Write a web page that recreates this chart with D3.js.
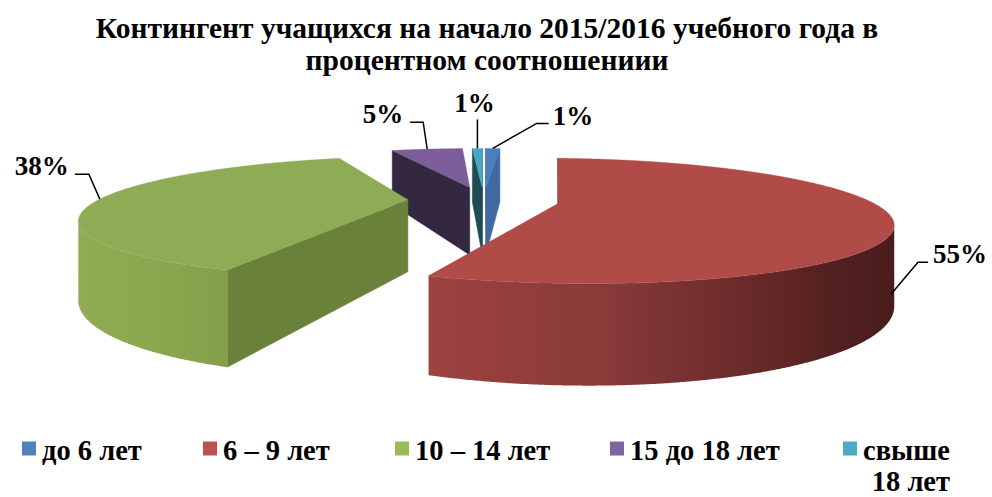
<!DOCTYPE html>
<html><head><meta charset="utf-8">
<script src="https://cdn.jsdelivr.net/npm/d3@7/dist/d3.min.js"></script>
<style>
body{margin:0;background:#fff}
text{font-family:"Liberation Serif","Times New Roman",serif;font-weight:bold;fill:#000}
</style>
</head><body>
<svg id="chart" width="992" height="497"></svg>
<script>
// ---- data ----
const titleLines = ["Контингент учащихся на начало 2015/2016 учебного года в", "процентном соотношениии"];
const categories = ["до 6 лет", "6 – 9 лет", "10 – 14 лет", "15 до 18 лет", "свыше 18 лет"];
const values = [1.0, 55.0, 38.4, 4.9, 0.7];
const legendColors = ["#4F81BD", "#C0504D", "#9BBB59", "#8064A2", "#4BACC6"];

// ---- styles ----
const topColors = ["#4A7EBD", "#B04B48", "#8EAC55", "#7A5D99", "#4AA8C3"];
const radialColors = ["#3E6AA1", "#6E2B2A", "#6A813A", "#332840", "#1F4B57"];
const wallStops = [
  [["0", "#4479B5"], ["1", "#3A659A"]],
  [["0", "#9D4341"], ["0.4", "#873938"], ["0.7", "#672A29"], ["0.9", "#501F1F"], ["1", "#4A1C1C"]],
  [["0", "#8EAC52"], ["0.5", "#8BA850"], ["1", "#839F4A"]],
  [["0", "#6E538C"], ["1", "#4B3A60"]],
  [["0", "#3F97AE"], ["1", "#2D6F80"]]
];

const W = 992, H = 497;
const svg = d3.select("#chart");
const defs = svg.append("defs");

// ---- projection ----
const cx = 483.7, cy = 200, rx = 309.7, rz = 55.9, persp = 0.28, wallH = 72, explode = 0.245;
const xScale = d3.scaleLinear().domain([-1, 1]).range([cx - rx, cx + rx]);
const zScale = d3.scaleLinear().domain([-1, 1]).range([cy + rz, cy - rz]);
function project(x, z, down) {
  const w = 1 + persp * z;
  return [xScale(x / w), zScale(z / w) + down * wallH / w];
}
const camZ = -1 / persp;

const pie = d3.pie().sort(null).value(d => d);
const arcs = pie(values);
const total = d3.sum(values);
const line = d3.line();

const slices = arcs.map((a, i) => {
  const mid = (a.startAngle + a.endAngle) / 2;
  const ox = explode * Math.sin(mid), oz = explode * Math.cos(mid);
  return { i, a, mid, ox, oz, depth: oz + 0.5 * Math.cos(mid) };
});
const drawOrder = slices.slice().sort((p, q) => q.depth - p.depth);

const pieG = svg.append("g");
drawOrder.forEach(s => {
  const g = pieG.append("g");
  const { a, ox, oz, i } = s;
  const rim = (t, down) => project(ox + Math.sin(t), oz + Math.cos(t), down);
  const apex = down => project(ox, oz, down);

  // radial walls
  [[a.startAngle, a.startAngle - Math.PI / 2], [a.endAngle, a.endAngle + Math.PI / 2]].forEach(([t, nAng]) => {
    const px = ox + 0.5 * Math.sin(t), pz = oz + 0.5 * Math.cos(t);
    const vis = (-px) * Math.sin(nAng) + (camZ - pz) * Math.cos(nAng);
    if (vis > 0) {
      g.append("path")
        .attr("d", line([apex(0), rim(t, 0), rim(t, 1), apex(1)]) + "Z")
        .attr("fill", radialColors[i]).attr("stroke", radialColors[i]).attr("stroke-width", 0.5);
    }
  });

  // outer wall (visible runs)
  const n = Math.max(8, Math.ceil((a.endAngle - a.startAngle) / 0.005));
  const runs = [];
  let cur = null;
  for (let k = 0; k <= n; k++) {
    const t = a.startAngle + (a.endAngle - a.startAngle) * k / n;
    const px = ox + Math.sin(t), pz = oz + Math.cos(t);
    const vis = (-px) * Math.sin(t) + (camZ - pz) * Math.cos(t) > 0;
    if (vis) { if (!cur) { cur = []; runs.push(cur); } cur.push(t); }
    else cur = null;
  }
  runs.forEach((run, r) => {
    if (run.length < 2) return;
    const gid = "wall" + i + "_" + r;
    const grad = defs.append("linearGradient").attr("id", gid)
      .attr("x1", 0).attr("x2", 1).attr("y1", 0).attr("y2", 0);
    wallStops[i].forEach(([o, c]) => grad.append("stop").attr("offset", o).attr("stop-color", c));
    const pts = run.map(t => rim(t, 0)).concat(run.slice().reverse().map(t => rim(t, 1)));
    g.append("path").attr("d", line(pts) + "Z")
      .attr("fill", `url(#${gid})`);
  });

  // top face
  const topPts = [apex(0)];
  for (let k = 0; k <= n; k++) topPts.push(rim(a.startAngle + (a.endAngle - a.startAngle) * k / n, 0));
  g.append("path").attr("d", line(topPts) + "Z")
    .attr("fill", topColors[i]).attr("stroke", topColors[i]).attr("stroke-width", 0.4);
});

// ---- data labels with leader lines ----
const labelDrop = [0, 1, 0, 0, 0];
const leaderElbow = [[44, -25], [27, -32], [-11, -25], [-4, -27], [0, -29]];
const leaderEnd = [[56, -25], [37, -32], [-25, -25], [-17, -27], [0, -29]];
const labelAnchor = ["start", "start", "end", "end", "middle"];
const labelShift = [[4, 2], [5, 1], [-6, 1], [-7, 1], [-3, -7]];
const fmt = d3.format(".0%");
const labG = svg.append("g");
slices.forEach(s => {
  const i = s.i;
  const p0 = project(s.ox + Math.sin(s.mid), s.oz + Math.cos(s.mid), labelDrop[i]);
  const p1 = [p0[0] + leaderElbow[i][0], p0[1] + leaderElbow[i][1]];
  const p2 = [p0[0] + leaderEnd[i][0], p0[1] + leaderEnd[i][1]];
  labG.append("path").attr("d", line([p0, p1, p2]))
    .attr("fill", "none").attr("stroke", "#000").attr("stroke-width", 1.5);
  labG.append("text").attr("x", p2[0] + labelShift[i][0]).attr("y", p2[1] + labelShift[i][1])
    .attr("text-anchor", labelAnchor[i]).attr("font-size", 27)
    .text(fmt(values[i] / total));
});

// ---- title ----
const tG = svg.append("g");
titleLines.forEach((t, k) => {
  tG.append("text").attr("x", 487).attr("y", 38 + k * 32)
    .attr("text-anchor", "middle").attr("font-size", 29.5).text(t);
});

// ---- legend ----
const legendX = [22, 203, 395, 610, 843];
const legG = svg.append("g");
categories.forEach((c, i) => {
  legG.append("rect").attr("x", legendX[i]).attr("y", 441.5).attr("width", 14).attr("height", 14)
    .attr("fill", legendColors[i]);
  const tx = legendX[i] + 20;
  const txt = legG.append("text").attr("x", tx).attr("y", 459.5).attr("font-size", 28.5);
  const words = c.split(" ");
  let lineWords = [], tspan = txt.append("tspan").attr("x", tx), lines = [tspan];
  words.forEach(wd => {
    lineWords.push(wd);
    tspan.text(lineWords.join(" "));
    if (tx + tspan.node().getComputedTextLength() > W - 20 && lineWords.length > 1) {
      lineWords.pop();
      tspan.text(lineWords.join(" "));
      lineWords = [wd];
      tspan = txt.append("tspan").attr("x", tx).attr("dy", 31).text(wd);
      lines.push(tspan);
    }
  });
  if (lines.length > 1) {
    const w0 = lines[0].node().getComputedTextLength();
    lines.slice(1).forEach(l => {
      l.attr("x", tx + w0 - l.node().getComputedTextLength());
    });
  }
});
</script>
</body></html>
